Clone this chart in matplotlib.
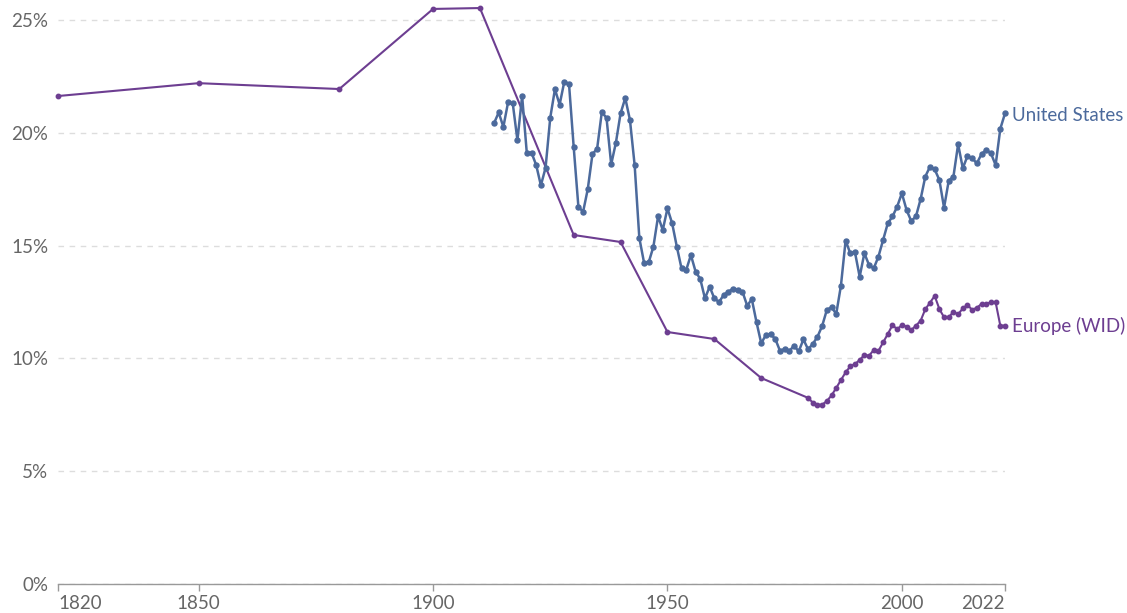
import matplotlib
matplotlib.use("Agg")
import matplotlib.pyplot as plt

plt.rcParams["font.family"] = ["Lato", "DejaVu Sans"]

# Europe (WID): sparse early points, then annual from 1980
europe_years = [1820, 1850, 1880, 1900, 1910, 1930, 1940, 1950, 1960, 1970] + list(range(1980, 2023))
europe_vals = [21.63, 22.2, 21.94, 25.49, 25.53, 15.47, 15.16, 11.17, 10.86, 9.13,
               8.25, 8.04, 7.95, 7.95, 8.11, 8.36, 8.69, 9.04, 9.38, 9.65,
               9.75, 9.93, 10.15, 10.12, 10.37, 10.33, 10.71, 11.08, 11.48, 11.29,
               11.48, 11.41, 11.26, 11.45, 11.67, 12.18, 12.47, 12.77, 12.19, 11.82,
               11.82, 12.07, 11.95, 12.22, 12.37, 12.15, 12.25, 12.41, 12.41, 12.49,
               12.49, 11.45, 11.45]

# United States: annual 1913-2022
us_years = list(range(1913, 2023))
us_vals = [20.42, 20.9, 20.26, 21.35, 21.3, 19.67, 21.63, 19.1, 19.12, 18.57,
           17.67, 18.45, 20.67, 21.93, 21.25, 22.27, 22.17, 19.37, 16.73, 16.49,
           17.5, 19.05, 19.3, 20.92, 20.66, 18.6, 19.56, 20.86, 21.54, 20.57,
           18.57, 15.34, 14.25, 14.26, 14.95, 16.3, 15.69, 16.65, 15.99, 14.95,
           13.99, 13.92, 14.58, 13.85, 13.52, 12.66, 13.18, 12.66, 12.5, 12.81,
           12.96, 13.09, 13.03, 12.96, 12.34, 12.62, 11.6, 10.67, 11.04, 11.08,
           10.86, 10.34, 10.42, 10.33, 10.56, 10.31, 10.84, 10.4, 10.64, 10.96,
           11.44, 12.15, 12.27, 11.97, 13.22, 15.22, 14.66, 14.7, 13.62, 14.66,
           14.14, 13.99, 14.51, 15.25, 15.99, 16.29, 16.73, 17.32, 16.58, 16.09,
           16.29, 17.06, 18.06, 18.5, 18.38, 17.91, 16.68, 17.88, 18.06, 19.49,
           18.43, 18.97, 18.87, 18.65, 19.06, 19.24, 19.09, 18.57, 20.18, 20.86]

x_ticks = [1820, 1850, 1900, 1950, 2000, 2022]
y_ticks = [0, 5, 10, 15, 20, 25]

US_COLOR = "#4c6a9c"
EU_COLOR = "#6d3e91"
TEXT_COLOR = "#666666"

fig = plt.figure(figsize=(11.27, 6.13), dpi=100)
ax = fig.add_axes([58 / 1127, 29 / 613, 947 / 1127, 584 / 613])

ax.plot(europe_years, europe_vals, color=EU_COLOR, lw=1.5, marker="o", ms=3.2, clip_on=False, zorder=3)
ax.plot(us_years, us_vals, color=US_COLOR, lw=1.8, marker="o", ms=3.6, clip_on=False, zorder=4)

ax.annotate("United States", (us_years[-1], us_vals[-1]), xytext=(5, -1.5), textcoords="offset points",
            va="center", ha="left", color=US_COLOR, fontsize=13.5, annotation_clip=False)
ax.annotate("Europe (WID)", (europe_years[-1], europe_vals[-1]), xytext=(5, -0.5), textcoords="offset points",
            va="center", ha="left", color=EU_COLOR, fontsize=13.5, annotation_clip=False)

ax.set_xlim(1820, 2022)
ax.set_ylim(0, 584 / 22.56)

ax.set_yticks(y_ticks)
ax.set_yticklabels([f"{v}%" for v in y_ticks])
ax.set_xticks(x_ticks)
ax.set_xticklabels([str(v) for v in x_ticks])
for i, lab in enumerate(ax.get_xticklabels()):
    if i == 0:
        lab.set_ha("left")
    elif i == len(x_ticks) - 1:
        lab.set_ha("right")

ax.grid(axis="y", color="#dddddd", linestyle=(0, (4, 4)), lw=1)
ax.grid(axis="x", visible=False)
ax.set_axisbelow(True)

for s in ["top", "right", "left"]:
    ax.spines[s].set_visible(False)
ax.spines["bottom"].set_color("#999999")
ax.spines["bottom"].set_linewidth(1)

ax.tick_params(axis="y", length=0, pad=7, labelsize=13.5, labelcolor=TEXT_COLOR)
ax.tick_params(axis="x", length=5, width=1, color="#999999", pad=3, labelsize=13.5, labelcolor=TEXT_COLOR)

fig.savefig("out.png", dpi=100)
